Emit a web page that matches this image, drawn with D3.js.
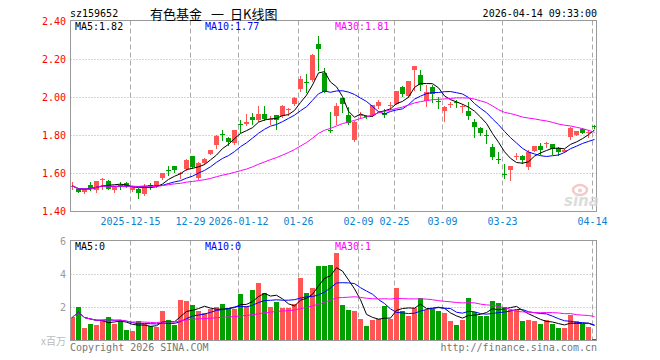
<!DOCTYPE html>
<html>
<head>
<meta charset="utf-8">
<script src="https://cdn.jsdelivr.net/npm/d3@7"></script>
<style>
  body { margin: 0; background: #fff; }
  svg { display: block; }
  text { font-family: "DejaVu Sans Mono", monospace; font-size: 10px; }
</style>
</head>
<body>
<div id="chart"></div>
<script>
// trading days, 2025-12-01 .. 2026-04-14
const dates = [
  '2025-12-01','2025-12-02','2025-12-03','2025-12-04','2025-12-05','2025-12-08','2025-12-09','2025-12-10',
  '2025-12-11','2025-12-12','2025-12-15','2025-12-16','2025-12-17','2025-12-18','2025-12-19','2025-12-22',
  '2025-12-23','2025-12-24','2025-12-25','2025-12-26','2025-12-29','2025-12-30','2025-12-31','2026-01-05',
  '2026-01-06','2026-01-07','2026-01-08','2026-01-09','2026-01-12','2026-01-13','2026-01-14','2026-01-15',
  '2026-01-16','2026-01-19','2026-01-20','2026-01-21','2026-01-22','2026-01-23','2026-01-26','2026-01-27',
  '2026-01-28','2026-01-29','2026-01-30','2026-02-02','2026-02-03','2026-02-04','2026-02-05','2026-02-06',
  '2026-02-09','2026-02-10','2026-02-11','2026-02-12','2026-02-13','2026-02-24','2026-02-25','2026-02-26',
  '2026-02-27','2026-03-02','2026-03-03','2026-03-04','2026-03-05','2026-03-06','2026-03-09','2026-03-10',
  '2026-03-11','2026-03-12','2026-03-13','2026-03-16','2026-03-17','2026-03-18','2026-03-19','2026-03-20',
  '2026-03-23','2026-03-24','2026-03-25','2026-03-26','2026-03-27','2026-03-30','2026-03-31','2026-04-01',
  '2026-04-02','2026-04-03','2026-04-07','2026-04-08','2026-04-09','2026-04-10','2026-04-13','2026-04-14'
];

const open = [
  1.532,1.521,1.505,1.539,1.512,1.570,1.562,1.512,1.540,1.551,1.515,1.521,1.491,1.537,1.535,1.574,
  1.620,1.639,1.598,1.623,1.691,1.577,1.656,1.705,1.749,1.808,1.788,1.758,1.863,1.860,1.898,1.881,
  1.911,1.886,1.907,1.904,1.935,1.965,2.044,2.080,2.091,2.281,2.130,1.830,1.905,1.995,1.907,1.776,
  1.905,1.902,1.907,1.954,1.919,1.958,1.968,2.056,2.007,2.144,2.121,1.981,2.056,1.980,1.930,1.965,
  1.975,1.951,1.930,1.872,1.842,1.805,1.739,1.675,1.597,1.618,1.690,1.691,1.635,1.719,1.744,1.756,
  1.754,1.732,1.714,1.793,1.802,1.833,1.811,1.850
];
const high = [
  1.556,1.523,1.520,1.553,1.563,1.574,1.565,1.535,1.556,1.553,1.535,1.523,1.544,1.549,1.563,1.604,
  1.639,1.642,1.609,1.675,1.694,1.660,1.681,1.725,1.800,1.828,1.793,1.830,1.880,1.915,1.919,1.954,
  1.954,1.902,1.910,1.958,1.947,2.000,2.112,2.126,2.228,2.325,2.153,1.925,1.972,1.998,1.951,1.875,
  1.925,1.910,1.963,1.986,1.942,1.977,2.035,2.058,2.088,2.167,2.144,2.065,2.065,2.003,1.953,1.977,
  1.986,1.968,1.977,1.886,1.845,1.828,1.754,1.711,1.649,1.642,1.709,1.697,1.723,1.746,1.758,1.765,
  1.756,1.740,1.728,1.846,1.826,1.842,1.828,1.854
];
const low = [
  1.521,1.502,1.500,1.512,1.505,1.521,1.518,1.505,1.521,1.530,1.510,1.472,1.488,1.521,1.530,1.570,
  1.593,1.607,1.577,1.620,1.630,1.570,1.650,1.700,1.735,1.775,1.750,1.755,1.819,1.855,1.860,1.878,
  1.881,1.863,1.832,1.900,1.910,1.960,2.035,2.030,2.088,2.144,2.028,1.818,1.861,1.925,1.863,1.770,
  1.890,1.890,1.905,1.947,1.895,1.942,1.965,2.007,2.005,2.039,2.039,1.954,1.977,1.944,1.877,1.951,
  1.951,1.925,1.886,1.790,1.802,1.761,1.674,1.656,1.574,1.568,1.674,1.656,1.626,1.716,1.702,1.737,
  1.705,1.697,1.711,1.779,1.800,1.811,1.793,1.842
];
const close = [
  1.535,1.504,1.516,1.521,1.560,1.572,1.521,1.530,1.537,1.535,1.530,1.495,1.535,1.533,1.560,1.600,
  1.616,1.618,1.600,1.670,1.632,1.656,1.677,1.723,1.797,1.803,1.767,1.828,1.860,1.870,1.881,1.912,
  1.886,1.888,1.884,1.954,1.937,1.998,2.095,2.077,2.223,2.254,2.030,1.822,1.954,1.965,1.867,1.872,
  1.907,1.898,1.960,1.977,1.907,1.960,2.033,2.021,2.086,2.165,2.065,2.030,2.018,1.977,1.951,1.968,
  1.972,1.953,1.902,1.846,1.814,1.802,1.688,1.674,1.595,1.640,1.692,1.670,1.711,1.744,1.723,1.758,
  1.728,1.714,1.726,1.840,1.823,1.814,1.819,1.849
];
// volume, millions
const volume = [
  1.41,2.02,0.75,1.03,0.93,1.27,1.41,0.99,1.27,0.63,0.59,1.17,1.03,0.87,0.81,1.78,
  1.27,0.93,2.44,2.38,2.14,1.78,1.64,1.88,2.02,2.20,1.96,1.90,2.81,2.08,3.05,3.47,
  2.85,2.02,2.32,1.96,1.96,2.20,3.78,2.89,3.17,4.50,4.50,4.58,5.31,2.14,1.84,1.78,
  1.29,0.87,1.23,1.29,2.08,1.33,3.19,1.80,1.47,2.00,2.57,1.84,1.90,1.78,1.66,1.19,
  0.93,1.23,2.57,1.74,1.47,1.47,2.38,2.26,2.02,1.84,1.84,1.17,1.23,1.17,0.99,1.23,
  0.99,0.75,0.75,1.54,1.17,0.99,0.81,0.08
];

const tickDates = ['2025-12-15','2025-12-29','2026-01-12','2026-01-26','2026-02-09',
                   '2026-02-25','2026-03-09','2026-03-23','2026-04-14'];
const tickLabels = ['2025-12-15','12-29','2026-01-12','01-26','02-09','02-25','03-09','03-23','04-14'];
const priceTicks = [1.40, 1.60, 1.80, 2.00, 2.20, 2.40];
const volTicks = [2, 4, 6];

const maPeriods = [5, 10, 30];
const maColors = ['#000000', '#0000ff', '#ff00ff'];
const legendMain = ['MA5:1.82', 'MA10:1.77', 'MA30:1.81'];
const legendVol = ['MA5:0', 'MA10:0', 'MA30:1'];

const upColor = '#ff5555';
const downColor = '#00a000';
const gridColor = '#aaaaaa';
const frameColor = '#999999';

const width = 660, height = 360;
const left = 70.5, right = 596.5;

const svg = d3.select('#chart').append('svg')
  .attr('width', width)
  .attr('height', height);

const x = d3.scaleBand().domain(dates).range([69.5, 597.5]);
const cx = d => x(d) + 3;

const yP = d3.scaleLinear().domain([1.4, 2.4]).range([211.5, 21.5]);
const yV = d3.scaleLinear().domain([0, 6]).range([340.5, 241.5]);

// moving average over what is available
function movingAvg(arr, n) {
  return arr.map((v, i) => {
    const s = arr.slice(Math.max(0, i - n + 1), i + 1);
    return d3.mean(s);
  });
}

const isUp = i => close[i] >= open[i];

// ---- grids ----
const grid = svg.append('g');
[[yP, priceTicks.slice(1, -1)], [yV, volTicks.slice(0, -1)]].forEach(([sc, ticks]) => {
  grid.selectAll(null)
    .data(ticks)
    .enter().append('line')
    .attr('x1', left).attr('x2', right)
    .attr('y1', d => sc(d)).attr('y2', d => sc(d))
    .attr('stroke', gridColor)
    .attr('stroke-dasharray', '1,2');
});

[[20.5, 211.5], [240.5, 340.5]].forEach(([y0, y1]) => {
  grid.selectAll(null)
    .data(tickDates)
    .enter().append('line')
    .attr('x1', d => x(d) + 1).attr('x2', d => x(d) + 1)
    .attr('y1', y0).attr('y2', y1)
    .attr('stroke', gridColor)
    .attr('stroke-dasharray', '5,3');
});

// ---- candles ----
const candles = svg.append('g');
dates.forEach((d, i) => {
  const col = isUp(i) ? upColor : downColor;
  candles.append('line')
    .attr('x1', cx(d)).attr('x2', cx(d))
    .attr('y1', Math.round(yP(high[i]))).attr('y2', Math.round(yP(low[i])) + 1)
    .attr('stroke', col);
  const top = Math.round(yP(Math.max(open[i], close[i])));
  const bot = Math.round(yP(Math.min(open[i], close[i])));
  candles.append('rect')
    .attr('x', x(d) + 0.5)
    .attr('y', top)
    .attr('width', 5)
    .attr('height', Math.max(1, bot - top))
    .attr('fill', col);
});

// ---- volume bars ----
svg.append('g').selectAll('rect')
  .data(dates)
  .enter().append('rect')
  .attr('x', d => x(d) + 0.5)
  .attr('y', (d, i) => Math.round(yV(volume[i])))
  .attr('width', 5)
  .attr('height', (d, i) => 340 - Math.round(yV(volume[i])))
  .attr('fill', (d, i) => isUp(i) ? upColor : downColor);

// ---- moving averages ----
const maG = svg.append('g');
maPeriods.forEach((n, k) => {
  const pm = movingAvg(close, n);
  const vm = movingAvg(volume, n);
  maG.append('path')
    .datum(pm)
    .attr('fill', 'none')
    .attr('stroke', maColors[k])
    .attr('stroke-width', 1)
    .attr('d', d3.line().x((v, i) => cx(dates[i])).y(v => yP(v)));
  maG.append('path')
    .datum(vm)
    .attr('fill', 'none')
    .attr('stroke', maColors[k])
    .attr('stroke-width', 1)
    .attr('d', d3.line().x((v, i) => cx(dates[i])).y(v => yV(v)));
});

// ---- frames ----
svg.append('rect')
  .attr('x', left).attr('y', 20.5)
  .attr('width', right - left).attr('height', 191)
  .attr('fill', 'none').attr('stroke', frameColor);
svg.append('rect')
  .attr('x', left).attr('y', 240.5)
  .attr('width', right - left).attr('height', 100)
  .attr('fill', 'none').attr('stroke', frameColor);

// ---- axis labels ----
svg.append('g').selectAll('text')
  .data(priceTicks)
  .enter().append('text')
  .attr('x', 66).attr('y', d => yP(d))
  .attr('text-anchor', 'end')
  .attr('dominant-baseline', 'central')
  .attr('fill', '#ff0000')
  .text(d => d.toFixed(2));

svg.append('g').selectAll('text')
  .data(volTicks)
  .enter().append('text')
  .attr('x', 66).attr('y', d => yV(d))
  .attr('text-anchor', 'end')
  .attr('dominant-baseline', 'central')
  .attr('fill', '#999999')
  .text(d => d);

svg.append('g').selectAll('text')
  .data(tickDates)
  .enter().append('text')
  .attr('x', d => x(d) + 1)
  .attr('y', 221)
  .attr('text-anchor', 'middle')
  .attr('dominant-baseline', 'central')
  .attr('fill', '#0a82d2')
  .text((d, i) => tickLabels[i]);

// ---- legends ----
const legX = [75, 205, 335];
legendMain.forEach((t, k) => {
  svg.append('text').attr('x', legX[k]).attr('y', 26.5)
    .attr('dominant-baseline', 'central').attr('fill', maColors[k]).text(t);
});
legendVol.forEach((t, k) => {
  svg.append('text').attr('x', legX[k]).attr('y', 246.5)
    .attr('dominant-baseline', 'central').attr('fill', maColors[k]).text(t);
});

// ---- titles ----
svg.append('text').attr('x', 70).attr('y', 13)
  .attr('dominant-baseline', 'central').attr('fill', '#000').text('sz159652');
const title = svg.append('text').attr('y', 13)
  .attr('dominant-baseline', 'central')
  .style('font-family', '"Noto Sans CJK SC", sans-serif')
  .style('font-size', '13px')
  .attr('fill', '#000');
title.append('tspan').attr('x', 150).text('有色基金');
title.append('tspan').attr('x', 211).text('一');
title.append('tspan').attr('x', 230).text('日K线图');

svg.append('text').attr('x', 597).attr('y', 13)
  .attr('text-anchor', 'end')
  .attr('dominant-baseline', 'central').attr('fill', '#000').text('2026-04-14 09:33:00');

// ---- footer ----
svg.append('text').attr('x', 66).attr('y', 340)
  .attr('text-anchor', 'end').attr('dominant-baseline', 'central')
  .style('font-family', '"Noto Sans CJK SC", sans-serif').style('font-size', '10px')
  .attr('fill', '#bbbbbb').text('x百万');
svg.append('text').attr('x', 70).attr('y', 347)
  .attr('dominant-baseline', 'central').attr('fill', '#777777').text('Copyright 2026 SINA.COM');
svg.append('text').attr('x', 597).attr('y', 347)
  .attr('text-anchor', 'end')
  .attr('dominant-baseline', 'central').attr('fill', '#777777').text('http://finance.sina.com.cn');

// ---- sina watermark ----
const logo = svg.append('g').attr('opacity', 0.8);
logo.append('ellipse').attr('cx', 580).attr('cy', 190).attr('rx', 7).attr('ry', 5)
  .attr('fill', 'none').attr('stroke', '#f4bcbc').attr('stroke-width', 2.5);
logo.append('circle').attr('cx', 580).attr('cy', 190.5).attr('r', 2).attr('fill', '#f4bcbc');
logo.append('text').attr('x', 564).attr('y', 206)
  .style('font-family', '"DejaVu Sans", sans-serif')
  .style('font-size', '15px').style('font-weight', 'bold').style('font-style', 'italic')
  .attr('fill', '#d4d4d4').text('sina');
</script>
</body>
</html>
